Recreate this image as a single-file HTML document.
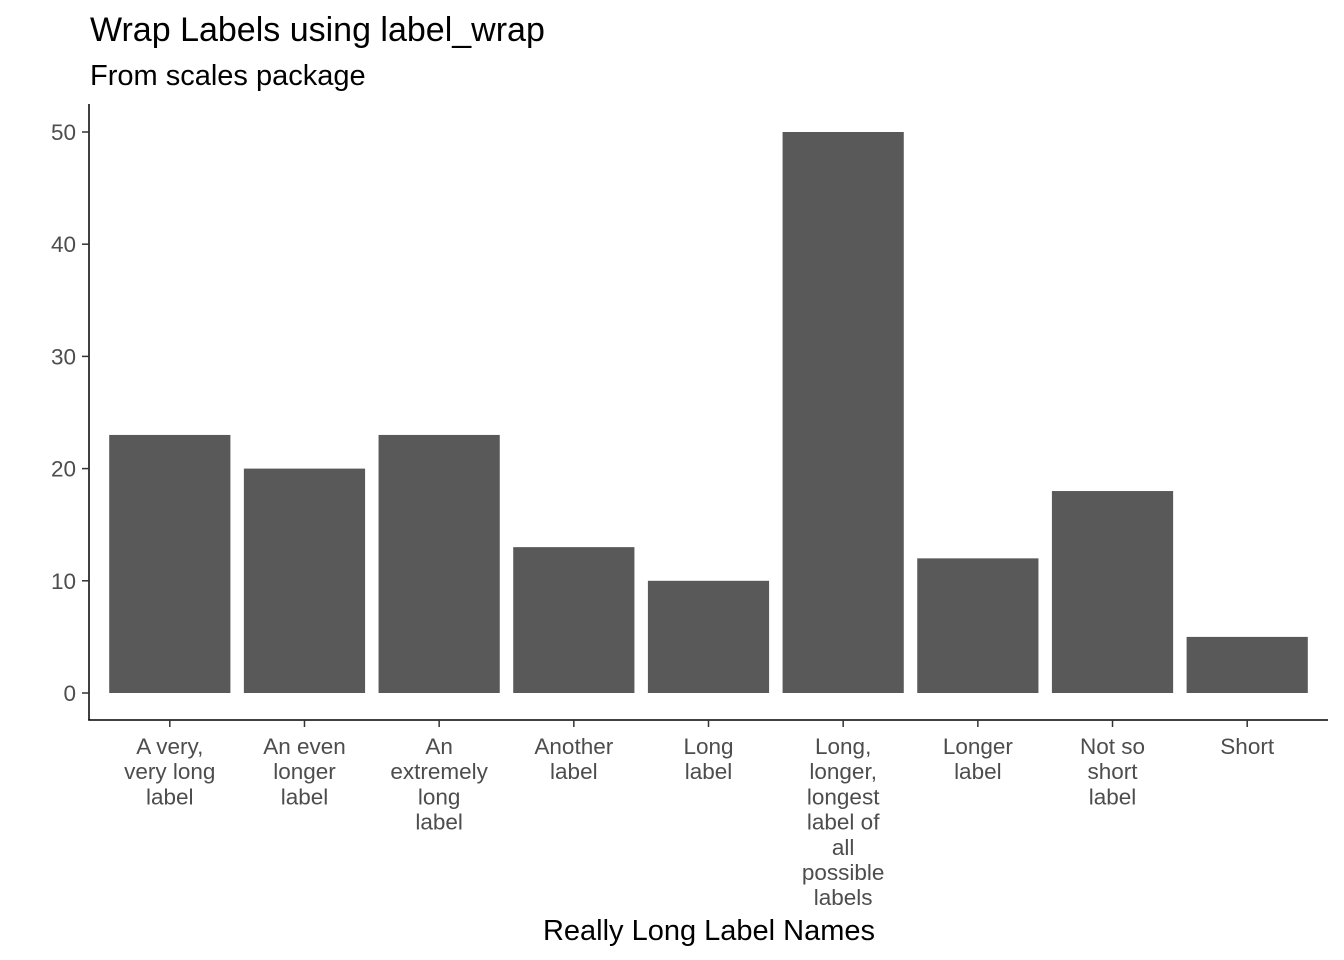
<!DOCTYPE html>
<html><head><meta charset="utf-8"><style>
body{margin:0;background:#fff}
svg{display:block;font-family:"Liberation Sans",Arial,sans-serif}
</style></head><body>
<svg id="chart" width="1344" height="960">
<text x="90" y="41" font-size="34" fill="#000">Wrap Labels using label_wrap</text>
<text x="90" y="85" font-size="29" fill="#000">From scales package</text>
<text x="709" y="940" font-size="29" fill="#000" text-anchor="middle">Really Long Label Names</text>
<g id="bars"></g>
<g id="yaxis"></g>
<g id="xaxis"></g>
</svg>
<script>
const categories = [["A very,","very long","label"],["An even","longer","label"],["An","extremely","long","label"],["Another","label"],["Long","label"],["Long,","longer,","longest","label of","all","possible","labels"],["Longer","label"],["Not so","short","label"],["Short"]];
const values = [23,20,23,13,10,50,12,18,5];
const yTicks = [0,10,20,30,40,50];

const NS="http://www.w3.org/2000/svg";
const left=89, right=1328, axisY=720, y0=693, y50=132;
const step=(right-left)/(categories.length-1+1.2);
const xPos=i=>left+step*(0.6+i);
const yPos=v=>y0-(y0-y50)*v/50;
const bw=step*0.9;
function mk(tag,attrs,parent){const e=document.createElementNS(NS,tag);for(const k in attrs)e.setAttribute(k,attrs[k]);parent.appendChild(e);return e;}
const bars=document.getElementById('bars'), ya=document.getElementById('yaxis'), xa=document.getElementById('xaxis');
values.forEach((v,i)=>{
  const r=mk('rect',{x:xPos(i)-bw/2,y:yPos(v),width:bw,height:yPos(0)-yPos(v),fill:'#595959'},bars);
  
  
});
const yl=mk('line',{x1:left,x2:left,y1:104,y2:axisY+0.5,stroke:'#000','stroke-width':1.5},ya);


yTicks.forEach(t=>{
  const y=yPos(t);
  mk('line',{x1:left-7,x2:left,y1:y,y2:y,stroke:'#333','stroke-width':1.5},ya);
  const tx=mk('text',{x:left-13,y:y+8,'font-size':22.5,fill:'#4d4d4d','text-anchor':'end'},ya);
  tx.textContent=t;
  
  
});
const xl=mk('line',{x1:left-0.75,x2:right,y1:axisY,y2:axisY,stroke:'#000','stroke-width':1.5},xa);


categories.forEach((lines,i)=>{
  const x=xPos(i);
  mk('line',{x1:x,x2:x,y1:axisY,y2:axisY+7,stroke:'#333','stroke-width':1.5},xa);
  const tx=mk('text',{x:x,y:754,'font-size':22.5,fill:'#4d4d4d','text-anchor':'middle'},xa);
  
  
  lines.forEach((l,j)=>{const s=mk('tspan',{x:x,dy:j?25.2:0},tx);s.textContent=l;});
});
</script>
</body></html>
